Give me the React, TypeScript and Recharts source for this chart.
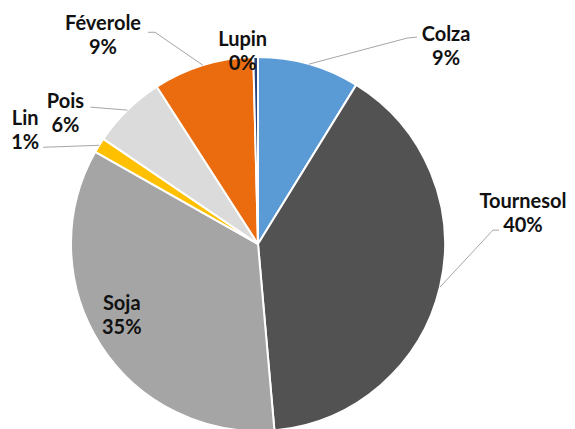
import { PieChart, Pie, Cell } from "recharts";

// Répartition des surfaces d'oléoprotéagineux (%), sens horaire depuis midi
const cultures = ["Colza", "Tournesol", "Soja", "Lin", "Pois", "Féverole", "Lupin"];
const parts = [8.8, 39.8, 34.6, 1.3, 6.4, 8.7, 0.4];
const couleurs = ["#5B9BD5", "#525252", "#A5A5A5", "#FFC000", "#DBDBDB", "#EB6C0E", "#264478"];

const data = cultures.map((name, i) => ({ name, value: parts[i] }));

// placement des étiquettes : décalage depuis le bord de la part, et trait de rappel
// (fin du trait / coude, relatifs au centre de l'étiquette)
const placement = [
  { dx: 137, dy: -19, end: [-29, -8], elbow: [-39, -7] },
  { dx: 83, dy: -75, end: [-24, 18], elbow: [-30, 18] },
  { dx: 21, dy: -31 },
  { dx: -74, dy: -16, end: [18, 18], elbow: [18, 18] },
  { dx: -62, dy: 2, end: [25, -5], elbow: [25, -5] },
  { dx: -100, dy: -31, end: [45, -2], elbow: [52, -2] },
  { dx: -13, dy: -7 },
];

const RAD = Math.PI / 180;

function renderLabel(props: any) {
  const { cx, cy, midAngle, outerRadius, percent, index, name } = props;
  const ex = cx + outerRadius * Math.cos(midAngle * RAD);
  const ey = cy - outerRadius * Math.sin(midAngle * RAD);
  const p = placement[index];
  const lx = ex + p.dx;
  const ly = ey + p.dy;
  return (
    <g key={`lbl-${index}`}>
      {p.end && (
        <polyline
          points={`${ex},${ey} ${lx + p.elbow![0]},${ly + p.elbow![1]} ${lx + p.end[0]},${ly + p.end[1]}`}
          fill="none"
          stroke="#A6A6A6"
          strokeWidth={1}
        />
      )}
      <text
        x={lx}
        y={ly}
        textAnchor="middle"
        fill="#111111"
        fontFamily="Lato, sans-serif"
        fontWeight={700}
        fontSize={20}
      >
        <tspan x={lx} y={ly - 12} dominantBaseline="central">
          {name}
        </tspan>
        <tspan x={lx} y={ly + 12} dominantBaseline="central">
          {`${Math.round(percent * 100)}%`}
        </tspan>
      </text>
    </g>
  );
}

export default function App() {
  return (
    <div style={{ position: "absolute", left: 0, top: 0, background: "#fff" }}>
      <PieChart width={575} height={429} margin={{ top: 0, right: 0, bottom: 0, left: 0 }}>
        <Pie
          data={data}
          dataKey="value"
          nameKey="name"
          cx={258}
          cy={244}
          outerRadius={187}
          startAngle={90}
          endAngle={-270}
          stroke="#FFFFFF"
          strokeWidth={2}
          label={renderLabel}
          labelLine={false}
          isAnimationActive={false}
        >
          {data.map((d, i) => (
            <Cell key={d.name} fill={couleurs[i]} />
          ))}
        </Pie>
      </PieChart>
    </div>
  );
}
